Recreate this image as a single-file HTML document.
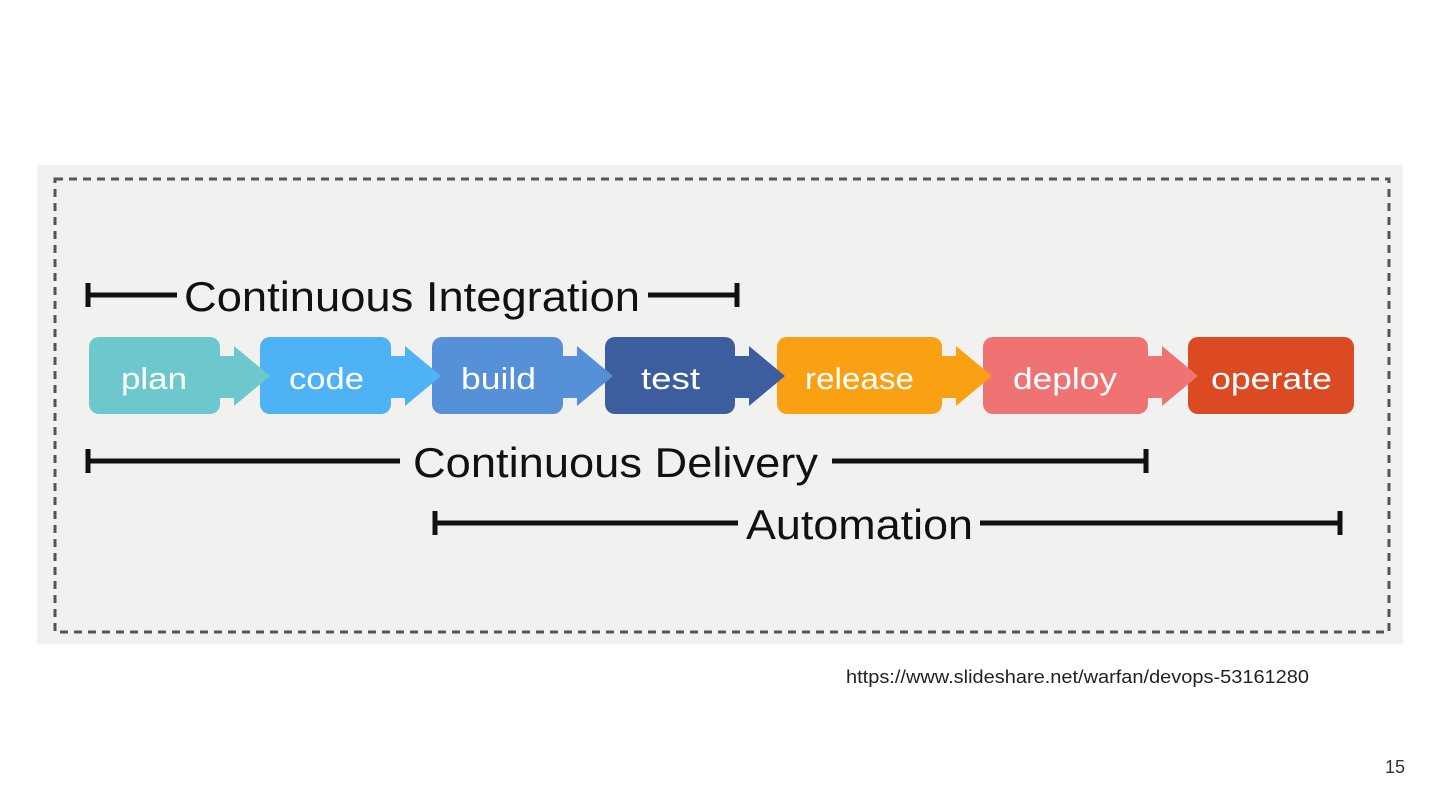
<!DOCTYPE html>
<html><head><meta charset="utf-8"><style>
html,body{margin:0;padding:0;background:#fff;width:1440px;height:810px;overflow:hidden}
svg{display:block}
</style></head><body>
<svg width="1440" height="810" xmlns="http://www.w3.org/2000/svg" font-family="Liberation Sans, sans-serif">
<rect x="37" y="165" width="1366" height="479" fill="#f1f1ef"/>
<rect x="55" y="179" width="1334" height="453" fill="none" stroke="#555" stroke-width="3" stroke-dasharray="8 6"/>
<g>
<rect x="89" y="337" width="131" height="77" rx="10" fill="#6cc8cc"/>
<rect x="260" y="337" width="131" height="77" rx="10" fill="#4db3f5"/>
<rect x="432" y="337" width="131" height="77" rx="10" fill="#5590d8"/>
<rect x="605" y="337" width="130" height="77" rx="10" fill="#3c5e9e"/>
<rect x="777" y="337" width="165" height="77" rx="10" fill="#f9a013"/>
<rect x="983" y="337" width="165" height="77" rx="10" fill="#ef7373"/>
<rect x="1188" y="337" width="166" height="77" rx="10" fill="#dc4a24"/>
</g>
<g>
<rect x="218" y="356" width="20" height="42" fill="#6cc8cc"/><polygon points="234,346 270,376 234,406" fill="#6cc8cc"/>
<rect x="389" y="356" width="20" height="42" fill="#4db3f5"/><polygon points="405,346 441,376 405,406" fill="#4db3f5"/>
<rect x="561" y="356" width="20" height="42" fill="#5590d8"/><polygon points="577,346 613,376 577,406" fill="#5590d8"/>
<rect x="733" y="356" width="20" height="42" fill="#3c5e9e"/><polygon points="749,346 785,376 749,406" fill="#3c5e9e"/>
<rect x="940" y="356" width="20" height="42" fill="#f9a013"/><polygon points="956,346 992,376 956,406" fill="#f9a013"/>
<rect x="1146" y="356" width="20" height="42" fill="#ef7373"/><polygon points="1162,346 1198,376 1162,406" fill="#ef7373"/>
</g>
<g font-size="31" fill="#fff">
<text x="121" y="389" textLength="66" lengthAdjust="spacingAndGlyphs">plan</text>
<text x="289" y="389" textLength="75" lengthAdjust="spacingAndGlyphs">code</text>
<text x="461" y="389" textLength="75" lengthAdjust="spacingAndGlyphs">build</text>
<text x="641" y="389" textLength="59" lengthAdjust="spacingAndGlyphs">test</text>
<text x="805" y="389" textLength="109" lengthAdjust="spacingAndGlyphs">release</text>
<text x="1013" y="389" textLength="104" lengthAdjust="spacingAndGlyphs">deploy</text>
<text x="1211" y="389" textLength="121" lengthAdjust="spacingAndGlyphs">operate</text>
</g>
<g stroke="#111" stroke-width="5" fill="none">
<path d="M88 295H177M648 295H737M88 283V307M737 283V307"/>
<path d="M88 461H400M832 461H1146M88 449V473M1146 449V473"/>
<path d="M435 523H738M980 523H1340M435 511V535M1340 511V535"/>
</g>
<g font-size="42" fill="#111">
<text x="184" y="311" textLength="456" lengthAdjust="spacingAndGlyphs">Continuous Integration</text>
<text x="413" y="477" textLength="405" lengthAdjust="spacingAndGlyphs">Continuous Delivery</text>
<text x="746" y="539" textLength="227" lengthAdjust="spacingAndGlyphs">Automation</text>
</g>
<text x="846" y="683" font-size="18" fill="#222" textLength="463" lengthAdjust="spacingAndGlyphs">https://www.slideshare.net/warfan/devops-53161280</text>
<text x="1385" y="773" font-size="18" fill="#333">15</text>
</svg>
</body></html>
